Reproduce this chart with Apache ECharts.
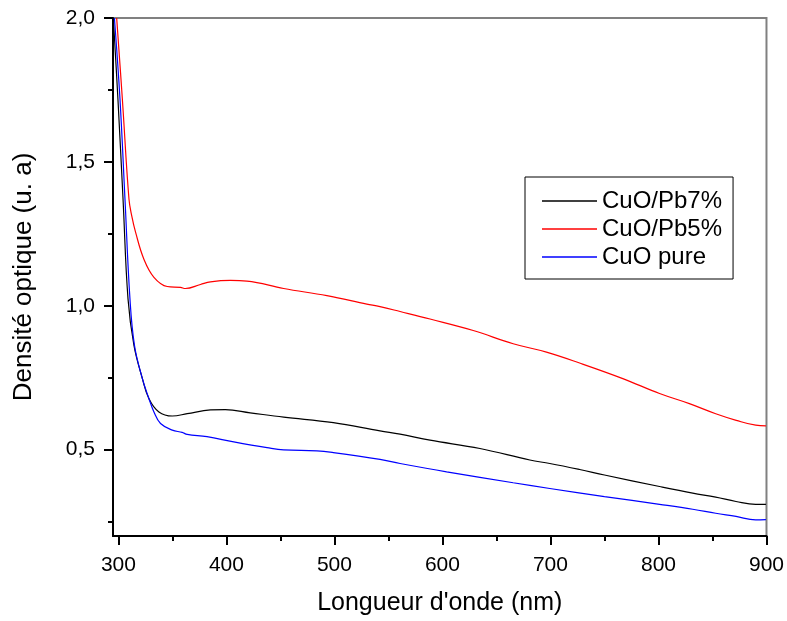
<!DOCTYPE html>
<html>
<head>
<meta charset="utf-8">
<script src="https://cdn.jsdelivr.net/npm/echarts@6/dist/echarts.min.js"></script>
<style>
  html, body { margin: 0; padding: 0; background: #fff; }
  #chart { width: 787px; height: 621px; }
</style>
</head>
<body>
<div id="chart"></div>
<script>
// values
const seriesNames = ['CuO/Pb7%', 'CuO/Pb5%', 'CuO pure'];

const pb7Wl = [295.3, 299.6, 304.3, 308.9, 314.4, 322.2, 328.3, 337.5, 349.9, 363.7, 385.2, 399, 422, 453, 499, 542.2, 560.8, 588.5, 634.7, 680.9, 699.4, 727, 750, 801, 831.7, 853, 871.8, 890, 899.5];
const pb7Val = [2.0, 1.716, 1.37, 1.024, 0.862, 0.747, 0.677, 0.631, 0.617, 0.625, 0.638, 0.639, 0.628, 0.613, 0.594, 0.565, 0.554, 0.533, 0.504, 0.464, 0.452, 0.431, 0.412, 0.372, 0.349, 0.335, 0.32, 0.31, 0.31];

const pb5Wl = [298.4, 303.7, 309.8, 312.5, 316, 323.6, 332.9, 345.2, 357.5, 362, 376, 385.2, 403.7, 419, 453, 493, 530, 542.2, 560.8, 588.5, 628.5, 665.5, 696.3, 727, 767, 801, 828.6, 853, 872, 890, 899.5];
const pb5Val = [2.0, 1.716, 1.37, 1.31, 1.254, 1.162, 1.099, 1.067, 1.064, 1.06, 1.074, 1.083, 1.088, 1.086, 1.06, 1.035, 1.006, 0.997, 0.98, 0.954, 0.914, 0.868, 0.839, 0.801, 0.747, 0.695, 0.66, 0.625, 0.602, 0.585, 0.583];

const pureWl = [296.3, 301.5, 306.1, 310.7, 314.9, 322.2, 328.3, 332.9, 339, 349.9, 359, 363.7, 382, 406.8, 437.6, 453, 483.8, 499, 542.2, 560.8, 603.9, 665.5, 699.4, 750, 801, 831.7, 853, 871.8, 890, 899.5];
const pureVal = [2.0, 1.716, 1.37, 1.024, 0.862, 0.747, 0.677, 0.631, 0.591, 0.568, 0.56, 0.553, 0.545, 0.527, 0.507, 0.499, 0.496, 0.49, 0.466, 0.452, 0.423, 0.385, 0.365, 0.337, 0.31, 0.293, 0.279, 0.268, 0.256, 0.257];

const xTicks = [300, 400, 500, 600, 700, 800, 900];
const xMinorTicks = [350, 450, 550, 650, 750, 850];
const yTicks = [0.5, 1.0, 1.5, 2.0];
const yMinorTicks = [0.25, 0.75, 1.25, 1.75];

function pairs(xs, ys) {
    let out = [];
    for (let i = 0; i < xs.length; i++) {
        out.push([xs[i], ys[i]]);
    }
    return out;
}

const font = "'Liberation Sans', Arial, sans-serif";
const xMin = 295, xMax = 900, yMin = 0.2, yMax = 2.0;

let chart = echarts.init(document.getElementById('chart'), null, { renderer: 'canvas' });

let baseX = {
    type: 'value', min: xMin, max: xMax,
    splitLine: { show: false }
};
let baseY = {
    type: 'value', min: yMin, max: yMax,
    splitLine: { show: false }
};

function lineSeries(name, xs, ys, color) {
    return {
        name: name, type: 'line', data: pairs(xs, ys),
        symbol: 'none', smooth: 0.4, clip: true,
        lineStyle: { color: color, width: 1.2 }, itemStyle: { color: color }
    };
}

let option = {
    backgroundColor: '#fff',
    animation: false,
    textStyle: { fontFamily: font },
    grid: {
        left: 113, right: 19, top: 18, bottom: 84,
        show: true, borderColor: '#808080', borderWidth: 2
    },
    legend: {
        orient: 'vertical',
        left: 525, top: 177,
        data: seriesNames,
        borderColor: '#000', borderWidth: 1,
        padding: [12, 11, 10, 17],
        icon: 'rect',
        itemWidth: 55, itemHeight: 1.5,
        itemGap: 4, itemTextGap: 9,
        textStyle: { fontSize: 24, color: '#000', fontFamily: font }
    },
    xAxis: [
        Object.assign({}, baseX, {
            name: "Longueur d'onde (nm)",
            nameLocation: 'middle',
            nameGap: 55,
            nameTextStyle: { fontSize: 25, color: '#000', fontFamily: font },
            axisLine: { lineStyle: { color: '#000', width: 2 } },
            axisTick: { customValues: xTicks, length: 9, lineStyle: { color: '#000', width: 2 } },
            axisLabel: {
                customValues: xTicks, margin: 19,
                fontSize: 21, color: '#000', fontFamily: font
            }
        }),
        Object.assign({}, baseX, {
            position: 'bottom',
            axisLine: { show: false },
            axisTick: { customValues: xMinorTicks, length: 5, lineStyle: { color: '#000', width: 2 } },
            axisLabel: { show: false }
        })
    ],
    yAxis: [
        Object.assign({}, baseY, {
            name: 'Densité optique (u. a)',
            nameLocation: 'middle',
            nameGap: 76,
            nameTextStyle: { fontSize: 26, color: '#000', fontFamily: font },
            axisLine: { lineStyle: { color: '#000', width: 2 } },
            axisTick: { customValues: yTicks, length: 9, lineStyle: { color: '#000', width: 2 } },
            axisLabel: {
                customValues: yTicks, margin: 18,
                fontSize: 21, color: '#000', fontFamily: font,
                formatter: function (v) { return v.toFixed(1).replace('.', ','); }
            }
        }),
        Object.assign({}, baseY, {
            position: 'left',
            axisLine: { show: false },
            axisTick: { customValues: yMinorTicks, length: 5, lineStyle: { color: '#000', width: 2 } },
            axisLabel: { show: false }
        })
    ],
    series: [
        lineSeries(seriesNames[0], pb7Wl, pb7Val, '#000000'),
        lineSeries(seriesNames[1], pb5Wl, pb5Val, '#ff0000'),
        lineSeries(seriesNames[2], pureWl, pureVal, '#0000ff')
    ]
};

chart.setOption(option);
</script>
</body>
</html>
